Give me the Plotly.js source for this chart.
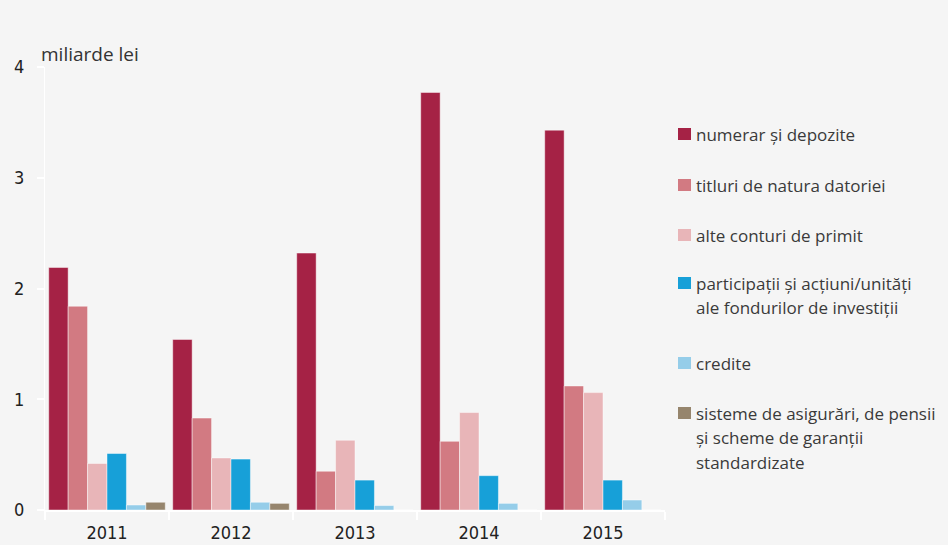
<!DOCTYPE html>
<html>
<head>
<meta charset="utf-8">
<script src="https://cdn.plot.ly/plotly-3.0.1.min.js"></script>
<style>html,body{margin:0;padding:0;background:#f5f5f5;}#chart{width:948px;height:545px;}</style>
</head>
<body>
<div id="chart"></div>
<script>
const years = ["2011", "2012", "2013", "2014", "2015"];
const seriesNames = [
  "numerar și depozite",
  "titluri de natura datoriei",
  "alte conturi de primit",
  "participații și acțiuni/unități<br>ale fondurilor de investiții",
  "credite",
  "sisteme de asigurări, de pensii<br>și scheme de garanții<br>standardizate"
];
const numerar = [2.19, 1.54, 2.32, 3.77, 3.43];
const titluri = [1.84, 0.83, 0.35, 0.62, 1.12];
const alteConturi = [0.42, 0.47, 0.63, 0.88, 1.06];
const participatii = [0.51, 0.46, 0.27, 0.31, 0.27];
const credite = [0.045, 0.07, 0.04, 0.06, 0.09];
const sisteme = [0.07, 0.06, 0, 0, 0];
const yTicks = [0, 1, 2, 3, 4];
const colors = ["#a52245", "#d27a82", "#e8b5b8", "#17a0d8", "#95cde9", "#96856d"];

const allSeries = [numerar, titluri, alteConturi, participatii, credite, sisteme];
const traces = allSeries.map((vals, i) => ({
  type: "bar",
  x: years,
  y: vals,
  name: seriesNames[i],
  showlegend: false,
  marker: {color: colors[i], line: {color: "rgba(255,255,255,0.45)", width: 1}},
  hoverinfo: "x+y+name"
}));

// plot area geometry in pixels (for converting legend placement to paper coords)
const L = 45, R = 665, T = 67, B = 510;
const px = x => (x - L) / (R - L);
const py = y => (B - y) / (B - T);

// manual legend (square + text lines); first-line centres in px
const legendTop = [134, 185, 235, 283, 363, 413];
const lineStep = 24.5;
const shapes = [];
const annotations = [{
  text: "miliarde lei", xref: "paper", yref: "paper",
  x: px(39), y: py(54), xanchor: "left", yanchor: "middle",
  showarrow: false,
  font: {family: "Open Sans, sans-serif", size: 19, color: "#333"}
}];
seriesNames.forEach((name, i) => {
  const c = legendTop[i];
  shapes.push({
    type: "rect", xref: "paper", yref: "paper",
    x0: px(678), x1: px(691), y0: py(c + 6), y1: py(c - 6),
    fillcolor: colors[i], line: {width: 0}
  });
  name.split("<br>").forEach((line, j) => {
    annotations.push({
      text: line, xref: "paper", yref: "paper",
      x: px(694), y: py(c + j * lineStep), xanchor: "left", yanchor: "middle",
      showarrow: false,
      font: {family: "Open Sans, sans-serif", size: 17, color: "#3a3a3a"}
    });
  });
});

const tickFont = {family: "Liberation Sans Narrow, DejaVu Sans Condensed, sans-serif", size: 18, color: "#222"};
const layout = {
  width: 948, height: 545,
  paper_bgcolor: "#f5f5f5", plot_bgcolor: "#f5f5f5",
  margin: {l: L, r: 948 - R, t: T, b: 545 - B, autoexpand: false},
  barmode: "group", bargap: 0.06, bargroupgap: 0,
  font: {family: "Open Sans, sans-serif", color: "#333"},
  showlegend: false,
  xaxis: {
    type: "category",
    showgrid: false, zeroline: false,
    showline: true, linecolor: "#ffffff", linewidth: 2,
    ticks: "outside", tickson: "boundaries", ticklen: 8, tickwidth: 2, tickcolor: "#ffffff",
    ticklabelstandoff: 5,
    tickfont: tickFont,
    fixedrange: true
  },
  yaxis: {
    range: [0, 4], tickvals: yTicks, ticktext: yTicks.map(String),
    showgrid: false, zeroline: false,
    showline: true, linecolor: "#ffffff", linewidth: 1,
    ticks: "outside", ticklen: 7, tickwidth: 2, tickcolor: "#ffffff",
    ticklabelstandoff: 9,
    tickfont: tickFont,
    fixedrange: true
  },
  shapes: shapes,
  annotations: annotations
};

Plotly.newPlot("chart", traces, layout, {displayModeBar: false, staticPlot: true});
</script>
</body>
</html>
